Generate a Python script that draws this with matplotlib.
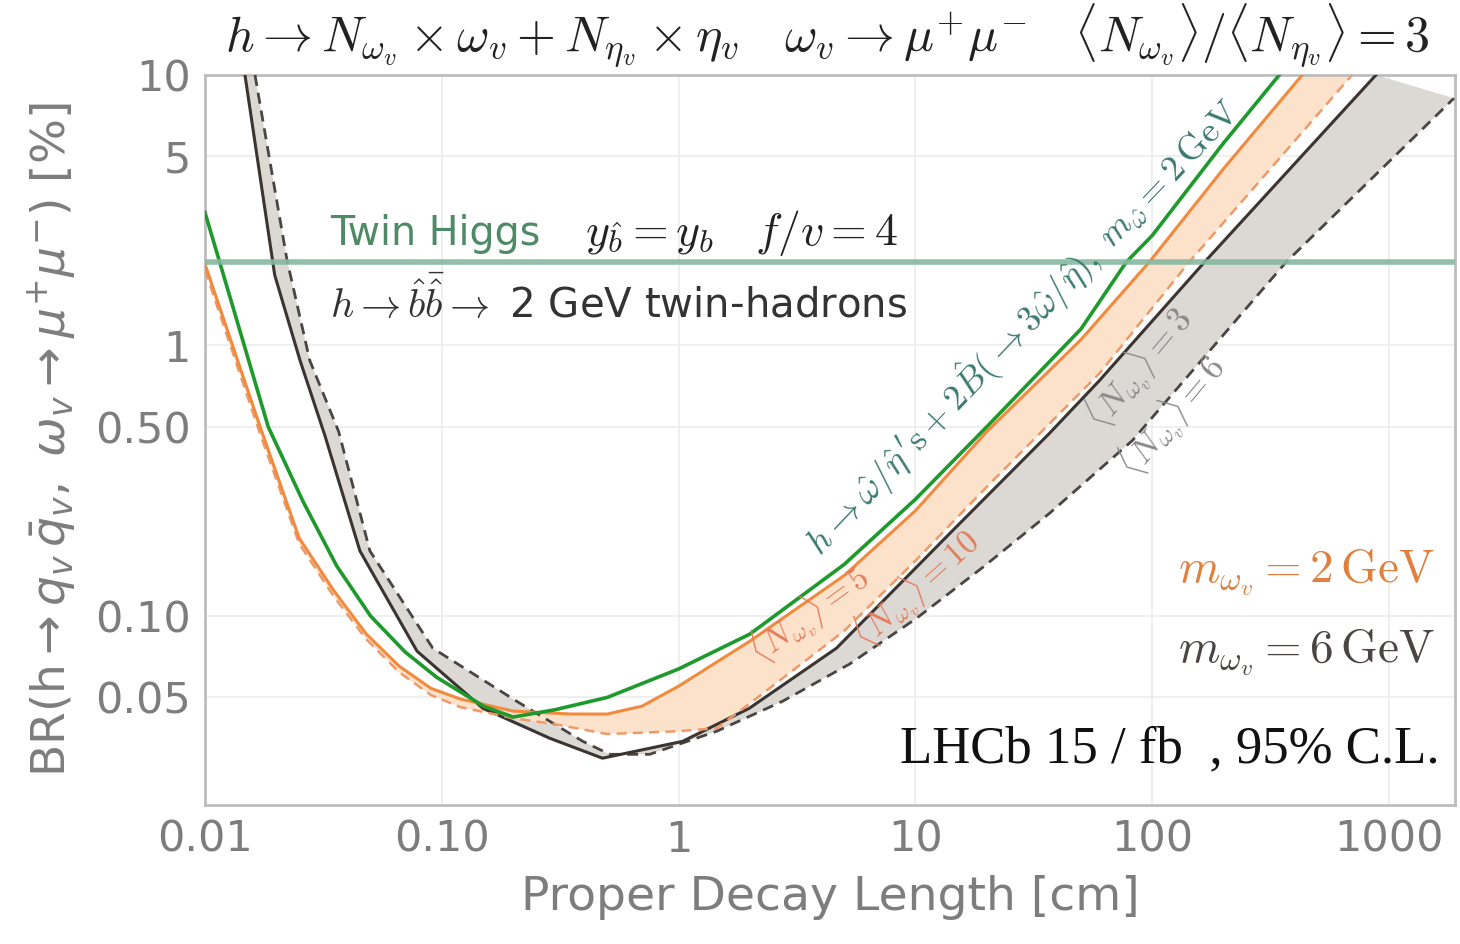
"""Dark-shower reach at LHCb: BR(h -> q_v q_v) limit vs. proper decay length."""

import matplotlib

matplotlib.use("Agg")
import matplotlib.pyplot as plt

plt.rcParams["mathtext.fontset"] = "cm"
plt.rcParams["font.family"] = "DejaVu Sans"

# ---- data -----------------------------------------------------------------
# twin Higgs: h -> w/eta's + 2B(-> 3 w/eta), m = 2 GeV
green_x = [0.01, 0.0116, 0.0185, 0.026, 0.036, 0.05, 0.07, 0.095, 0.15, 0.2,
           0.3, 0.5, 1.0, 2.0, 5.0, 10, 20, 50, 77.6, 100, 200, 344]
green_y = [3.1, 2.0, 0.5, 0.264, 0.153, 0.1, 0.0736, 0.0594, 0.0464, 0.0423,
           0.045, 0.05, 0.0637, 0.0857, 0.155, 0.27, 0.5, 1.15, 2.03, 2.55,
           5.6, 10]

# m_w = 2 GeV, <N_w> = 5 (solid) and 10 (dashed)
o2_x = [0.01, 0.0171, 0.025, 0.035, 0.048, 0.066, 0.09, 0.12, 0.2, 0.35,
        0.5, 0.7, 1.0, 2.0, 5.0, 10, 20, 50, 97, 200, 430]
o2_y = [2.0, 0.5, 0.194, 0.124, 0.0857, 0.0653, 0.054, 0.0493, 0.0445,
        0.0434, 0.0434, 0.0464, 0.055, 0.0807, 0.141, 0.245, 0.48, 1.05,
        2.03, 4.5, 10]
o10_x = [0.01, 0.0171, 0.025, 0.035, 0.048, 0.066, 0.09, 0.12, 0.2, 0.3,
         0.5, 1.0, 1.45, 2.0, 5.0, 10, 20, 60, 143, 698]
o10_y = [1.9, 0.47, 0.185, 0.118, 0.082, 0.062, 0.051, 0.046, 0.0419,
         0.0398, 0.0366, 0.0375, 0.0385, 0.0475, 0.088, 0.16, 0.3, 0.79,
         2.03, 10]

# m_w = 6 GeV, <N_w> = 3 (solid) and 6 (dashed)
k3_x = [0.01475, 0.0197, 0.0252, 0.0321, 0.0451, 0.0786, 0.149, 0.286,
        0.477, 1.04, 1.99, 4.64, 13.9, 36.7, 59.7, 166, 881]
k3_y = [10, 1.82, 0.88, 0.464, 0.174, 0.0741, 0.0456, 0.0353, 0.0298,
        0.0344, 0.0456, 0.076, 0.201, 0.472, 0.74, 2.03, 10]
k6_x = [0.01626, 0.0222, 0.0277, 0.0367, 0.0497, 0.0916, 0.207, 0.394,
        0.512, 0.755, 1.45, 2.75, 5.27, 10.1, 19.2, 36.7, 82.4, 367, 1880]
k6_y = [10, 2.07, 0.88, 0.48, 0.174, 0.076, 0.0484, 0.0344, 0.0308, 0.0308,
        0.0375, 0.0484, 0.0664, 0.098, 0.151, 0.239, 0.445, 2.03, 8.2]

twin_br = 2.03  # twin Higgs benchmark, y_b^ = y_b, f/v = 4

x_ticks = [0.01, 0.1, 1, 10, 100, 1000]
x_labels = ["0.01", "0.10", "1", "10", "100", "1000"]
y_ticks = [0.05, 0.1, 0.5, 1, 5, 10]
y_labels = ["0.05", "0.10", "0.50", "1", "5", "10"]

XLIM = (0.01, 1900)
YLIM = (0.02, 10)

C_GREEN = "#1e9a2c"
C_ORANGE = "#f28a3e"
C_ORANGE_D = "#ee9a68"
C_DARK = "#3b3431"
C_GRAYFILL = "#dcd8d4"
C_ORFILL = "#fde2cb"
C_TWIN = "#86b89f"
C_TICK = "#7d7d7d"

fig = plt.figure(figsize=(14.6, 9.44), dpi=100)
ax = fig.add_axes([0.1404, 0.1472, 0.8562, 0.7734])
ax.set_xscale("log")
ax.set_yscale("log")
ax.set_xlim(*XLIM)
ax.set_ylim(*YLIM)

# bands
ax.fill(k3_x + k6_x[::-1] + [XLIM[1]], k3_y + k6_y[::-1] + [YLIM[1]],
        color=C_GRAYFILL, lw=0, zorder=1)
ax.fill(o2_x + o10_x[::-1], o2_y + o10_y[::-1], color=C_ORFILL, lw=0,
        zorder=1.5)

ax.plot(k6_x, k6_y, color="#4a4542", lw=2.0, ls=(0, (4, 2.5)), zorder=3)
ax.plot(k3_x, k3_y, color=C_DARK, lw=2.2, zorder=3)
ax.plot(o10_x, o10_y, color=C_ORANGE_D, lw=1.8, ls=(0, (4, 2.5)), zorder=3)
ax.plot(o2_x, o2_y, color=C_ORANGE, lw=2.2, zorder=3.2)
ax.plot(green_x, green_y, color=C_GREEN, lw=2.6, zorder=3.4)

ax.axhline(twin_br, color=C_TWIN, lw=4.0, alpha=0.9, zorder=4)

# axes cosmetics
ax.set_xticks(x_ticks)
ax.set_xticklabels(x_labels)
ax.set_yticks(y_ticks)
ax.set_yticklabels(y_labels)
ax.minorticks_off()
ax.tick_params(length=0, labelsize=31, colors=C_TICK, pad=10)
ax.grid(True, color="#ececec", lw=1.2, zorder=0)
ax.set_axisbelow(True)
for s in ax.spines.values():
    s.set_color("#bdbdbd")
    s.set_linewidth(2.0)

ax.set_xlabel("Proper Decay Length [cm]", fontsize=34, color=C_TICK,
              labelpad=10)
ax.set_ylabel(r"BR(h$\rightarrow q_v\,\bar{q}_v,\ \omega_v \rightarrow \mu^{+}\mu^{-}$) [%]",
              fontsize=34, color=C_TICK, labelpad=12,
              math_fontfamily="dejavusans")

fig.text(0.567, 0.962,
         r"$h \rightarrow N_{\omega_v} \times \omega_v + N_{\eta_v} \times \eta_v"
         r"\quad \omega_v \rightarrow \mu^{+}\mu^{-}"
         r"\quad \langle N_{\omega_v}\rangle / \langle N_{\eta_v}\rangle = 3$",
         ha="center", va="center", fontsize=36, color="#222222")

# twin Higgs annotation
ax.text(0.1, 0.767, "Twin Higgs", transform=ax.transAxes, fontsize=28.5,
        color="#4f8a66", va="baseline")
ax.text(0.304, 0.767, r"$y_{\hat{b}} = y_b \quad f/v = 4$",
        transform=ax.transAxes, fontsize=33, color="#222222", va="baseline")
ax.text(0.1, 0.667,
        r"$h \rightarrow \hat{b}\bar{\hat{b}} \rightarrow$ 2 GeV twin-hadrons",
        transform=ax.transAxes, fontsize=29, color="#333333", va="baseline")

# curve labels
ax.text(4.0, 0.165,
        r"$h \rightarrow \hat{\omega}/\hat{\eta}\,\mathrm{'s} + 2\hat{B}"
        r"(\rightarrow 3\hat{\omega}/\hat{\eta}),\ m_{\hat{\omega}} = 2\,\mathrm{GeV}$",
        rotation=46.5, rotation_mode="anchor", fontsize=26, color="#3b7a70",
        ha="left", va="baseline", zorder=5)
ax.text(2.2, 0.066, r"$\langle N_{\omega_v}\rangle = 5$", rotation=36,
        rotation_mode="anchor", fontsize=24, color="#e47a5a", ha="left",
        va="baseline", zorder=5)
ax.text(6.2, 0.075, r"$\langle N_{\omega_v}\rangle = 10$", rotation=42,
        rotation_mode="anchor", fontsize=24, color="#e47a5a", ha="left",
        va="baseline", zorder=5)
ax.text(61, 0.48, r"$\langle N_{\omega_v}\rangle = 3$", rotation=50,
        rotation_mode="anchor", fontsize=25, color="#8a8a8a", ha="left",
        va="baseline", zorder=5)
ax.text(84, 0.32, r"$\langle N_{\omega_v}\rangle = 6$", rotation=50,
        rotation_mode="anchor", fontsize=25, color="#8a8a8a", ha="left",
        va="baseline", zorder=5)

ax.text(0.984, 0.305, r"$m_{\omega_v} = 2\,\mathrm{GeV}$",
        transform=ax.transAxes, fontsize=34, color="#e0803e", ha="right",
        va="baseline", zorder=5)
ax.text(0.984, 0.196, r"$m_{\omega_v} = 6\,\mathrm{GeV}$",
        transform=ax.transAxes, fontsize=34, color="#4a4542", ha="right",
        va="baseline", zorder=5)
ax.text(0.988, 0.059, "LHCb 15 / fb  , 95% C.L.", transform=ax.transAxes,
        fontsize=38, family="Liberation Serif", color="#111111", ha="right",
        va="baseline", zorder=5)

fig.savefig("out.png", dpi=100)
